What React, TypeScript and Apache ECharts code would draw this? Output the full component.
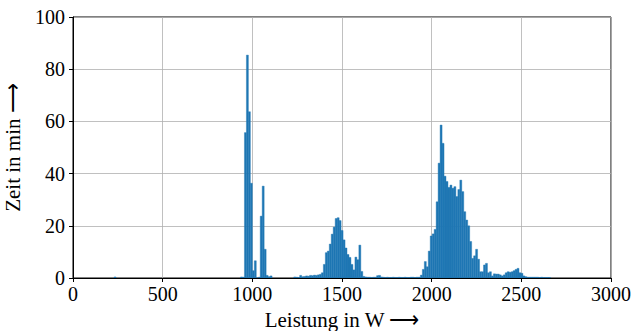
import React, { useEffect, useRef } from "react";
import * as echarts from "echarts";

// Histogram bin width (W)
const BIN_W = 11;

// Small isolated bar
const lowStart = 229;
const lowValues = [0.4];

// Cluster around 1000 W
const group1000Start = 934;
const group1000Values = [0.4, 0.3, 55.7, 85.4, 63.7, 36.3, 2.8, 6.6, 0, 0.3, 23.7, 35.2, 11, 1.0, 0.5, 0.8];

// Cluster around 1500 W (incl. flat tail up to ~1930 W)
const group1500Start = 1231;
const group1500Values = [
  0.4, 0.3, 0.2, 1.0, 0.5, 0.6, 0.8, 0.7, 1.0, 0.9, 1.1, 1.0, 1.2, 1.4, 2.0,
  5.2, 9.7, 10.3, 13, 16.8, 19.5, 22.8, 23.1, 22, 18.2, 14.6, 11.5, 9, 7.9, 5.2,
  3.1, 8.0, 7.0, 12.6, 2.5, 0.6, 0.4, 0.3, 0.3, 0.2, 0.3, 0.3, 0.9, 1.0, 0.4,
  0.3, 0.2, 0.3, 0.2, 0.2, 0.3, 0.2, 0.2, 0.3, 0.2, 0.2, 0.3, 0.2, 0.2, 0.3,
  0.3, 0.2, 0.3, 0.3,
];

// Cluster around 2000-2500 W
const group2000Start = 1937;
const group2000Values = [
  1.1, 3.3, 6.3, 4.3, 10.3, 16.1, 16.9, 18.6, 29.2, 44, 58.6, 51.6, 39, 37, 34.7,
  35.6, 34.4, 35, 31.2, 33.9, 37.5, 33.1, 25.4, 22.2, 20, 14, 7.5, 8.5, 11, 7.2,
  2.4, 2.4, 5, 5.6, 2, 2.4, 0.8, 1.6, 1.5, 1.5, 1.2, 0.8, 1.2, 2, 2.4, 2.2, 2.4,
  2.8, 3.3, 3.7, 2, 1.8, 0.8, 0.5, 0.3, 0.3, 0.3, 0.3, 0.3, 0.3, 0.2, 0.3, 0.2,
  0.2, 0.2, 0.2,
];

const xTicks = [0, 500, 1000, 1500, 2000, 2500, 3000];
const yTicks = [0, 20, 40, 60, 80, 100];

const X_NAME = "Leistung in W \u27F6";
const Y_NAME = "Zeit in min \u27F6";

function buildBins(): number[][] {
  const out: number[][] = [];
  const groups: [number, number[]][] = [
    [lowStart, lowValues],
    [group1000Start, group1000Values],
    [group1500Start, group1500Values],
    [group2000Start, group2000Values],
  ];
  for (const [start, vals] of groups) {
    vals.forEach((v, i) => {
      const a = start + i * BIN_W;
      out.push([a, a + BIN_W, v]);
    });
  }
  return out;
}

const FONT = "Liberation Serif";

export default function App() {
  const ref = useRef<HTMLDivElement>(null);
  useEffect(() => {
    if (!ref.current) return;
    const chart = echarts.init(ref.current, undefined, { renderer: "svg" });
    const bins = buildBins();
    chart.setOption({
      animation: false,
      backgroundColor: "#fff",
      textStyle: { fontFamily: FONT },
      grid: {
        left: 73,
        right: 23,
        top: 17,
        bottom: 53,
        outerBoundsMode: "none",
        containLabel: false,
        show: true,
        borderColor: "#000",
        borderWidth: 1,
        backgroundColor: "transparent",
      },
      xAxis: {
        type: "value",
        min: xTicks[0],
        max: xTicks[xTicks.length - 1],
        interval: 500,
        name: X_NAME,
        nameLocation: "middle",
        nameGap: 29,
        nameTextStyle: { fontFamily: FONT, fontSize: 21, lineHeight: 22, color: "#000" },
        axisLine: { show: true, lineStyle: { color: "#000", width: 1 } },
        axisTick: { show: true, inside: false, length: 4, lineStyle: { color: "#000", width: 1 } },
        axisLabel: {
          fontFamily: FONT,
          fontSize: 20,
          color: "#000",
          margin: 6,
          formatter: (v: number) => String(v),
        },
        splitLine: { show: true, lineStyle: { color: "#b0b0b0", width: 0.8 } },
      },
      yAxis: {
        type: "value",
        min: yTicks[0],
        max: yTicks[yTicks.length - 1],
        interval: 20,
        name: Y_NAME,
        nameLocation: "middle",
        nameGap: 46,
        nameTextStyle: { fontFamily: FONT, fontSize: 21, lineHeight: 22, color: "#000" },
        axisLine: { show: true, lineStyle: { color: "#000", width: 1 } },
        axisTick: { show: true, inside: false, length: 4, lineStyle: { color: "#000", width: 1 } },
        axisLabel: {
          fontFamily: FONT,
          fontSize: 20,
          color: "#000",
          margin: 8,
          formatter: (v: number) => String(v),
        },
        splitLine: { show: true, lineStyle: { color: "#b0b0b0", width: 0.8 } },
      },
      series: [
        {
          type: "custom",
          data: bins,
          encode: { x: [0, 1], y: 2 },
          clip: true,
          renderItem: (params: any, api: any) => {
            const x0 = api.value(0);
            const x1 = api.value(1);
            const v = api.value(2);
            const p0 = api.coord([x0, v]);
            const p1 = api.coord([x1, 0]);
            return {
              type: "rect",
              shape: { x: p0[0], y: p0[1], width: p1[0] - p0[0], height: p1[1] - p0[1] },
              style: { fill: "#1f77b4", stroke: "#1f77b4", lineWidth: 0.4 },
            };
          },
        },
      ],
    });
    return () => chart.dispose();
  }, []);
  return (
    <div
      ref={ref}
      style={{ position: "fixed", left: 0, top: 0, width: 634, height: 331, background: "#fff" }}
    />
  );
}
